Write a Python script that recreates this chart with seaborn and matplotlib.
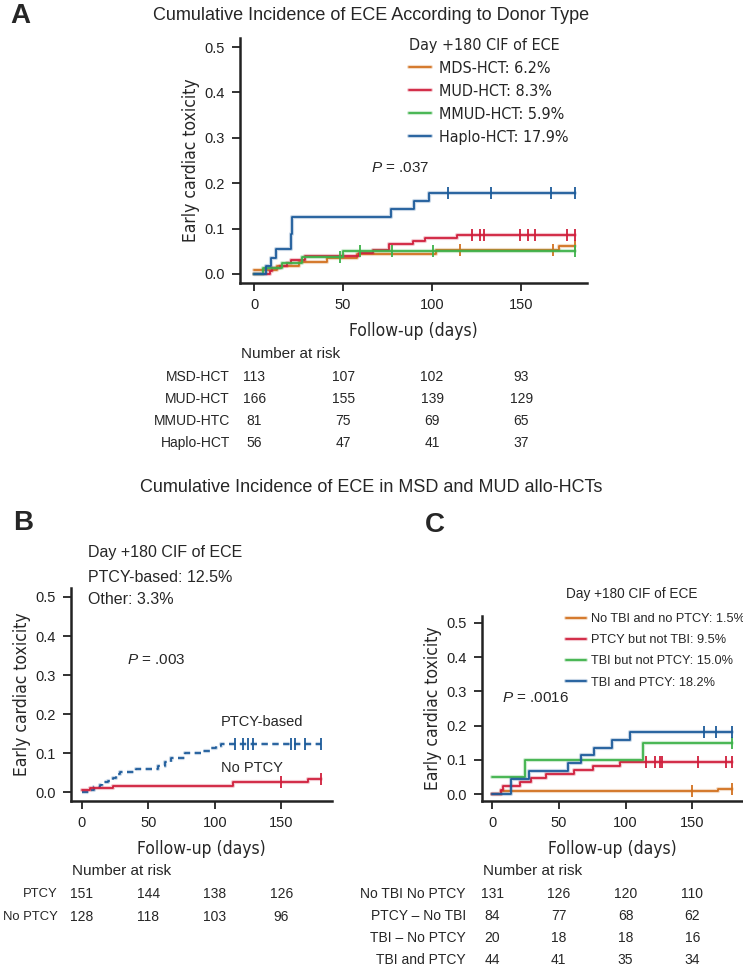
import numpy as np
import pandas as pd
import matplotlib
matplotlib.use("Agg")
import matplotlib.pyplot as plt
import matplotlib.patheffects as pe
from matplotlib import font_manager as fm
from matplotlib.transforms import blended_transform_factory
import seaborn as sns

# Estilo general
sns.set_style("ticks")
plt.rcParams['font.family'] = ['Liberation Sans', 'DejaVu Sans']
plt.rcParams['mathtext.fontset'] = 'custom'
plt.rcParams['mathtext.it'] = 'Liberation Sans:italic'
plt.rcParams['mathtext.rm'] = 'Liberation Sans'

# Buscamos una fuente estrecha (condensada) si está instalada
cond_file = None
for f in fm.fontManager.ttflist:
    base = f.fname.lower()
    if ('narrow' in base or 'condensed' in base) and 'bold' not in base and 'oblique' not in base \
            and 'italic' not in base:
        cond_file = f.fname
        break


def narrow(size):
    if cond_file:
        return fm.FontProperties(fname=cond_file, size=size)
    return fm.FontProperties(family='Liberation Sans', size=size * 0.92)


# Colores
c_orange = '#D2711F'
c_red = '#D01F3C'
c_green = '#3DB249'
c_blue = '#1C5B9A'

# ---------------- Datos panel A (tipo de donante) ----------------
msd_days = [0, 13, 25, 41, 58, 102, 171, 180]
msd_cif = [0.009, 0.018, 0.027, 0.035, 0.044, 0.053, 0.062, 0.062]
msd_cens = [115.5, 168, 180]

mud_days = [0, 9, 10, 14.5, 18.3, 20.5, 28.6, 59, 67, 76, 89.5, 96, 114, 180]
mud_cif = [0, 0.006, 0.012, 0.018, 0.024, 0.030, 0.040, 0.047, 0.053, 0.067, 0.073, 0.079, 0.086, 0.086]
mud_cens = [122.6, 127, 129, 149.4, 154, 158, 176, 180]

mmud_days = [0, 5.2, 15.5, 26.8, 50, 180]
mmud_cif = [0, 0.012, 0.025, 0.037, 0.050, 0.050]
mmud_cens = [48.5, 59.5, 77.5, 100.6, 180]

haplo_days = [0, 6.7, 9.6, 12.4, 20.8, 21.3, 76.8, 89.9, 98.3, 180]
haplo_cif = [0, 0.018, 0.036, 0.054, 0.089, 0.125, 0.143, 0.161, 0.179, 0.179]
haplo_cens = [109, 133, 167, 180]

a_legend = ['MDS-HCT: 6.2%', 'MUD-HCT: 8.3%', 'MMUD-HCT: 5.9%', 'Haplo-HCT: 17.9%']
a_risk_labels = ['MSD-HCT', 'MUD-HCT', 'MMUD-HTC', 'Haplo-HCT']
a_risk = [[113, 107, 102, 93], [166, 155, 139, 129], [81, 75, 69, 65], [56, 47, 41, 37]]

# ---------------- Datos panel B (PTCY) ----------------
ptcy_days = [0, 6.2, 9, 13.7, 15.7, 20, 23.7, 26, 28.7, 41.2, 57.5, 62.5, 67.5, 77.5, 90, 96.3, 101.3, 105, 180]
ptcy_cif = [0, 0.007, 0.013, 0.020, 0.026, 0.030, 0.037, 0.046, 0.052, 0.061, 0.067, 0.079, 0.087, 0.102,
            0.107, 0.113, 0.119, 0.125, 0.125]
ptcy_cens = [115.5, 121.5, 125, 129, 157, 160.5, 168, 180]

noptcy_days = [0, 6.2, 23.7, 113.7, 170, 180]
noptcy_cif = [0.005, 0.010, 0.017, 0.026, 0.034, 0.034]
noptcy_cens = [150, 180]

b_risk_labels = ['PTCY', 'No PTCY']
b_risk = [[151, 144, 138, 126], [128, 118, 103, 96]]

# ---------------- Datos panel C (TBI / PTCY) ----------------
neither_days = [0, 6.5, 169.5, 180]
neither_cif = [0, 0.008, 0.015, 0.015]
neither_cens = [150, 180]

ptcyonly_days = [0, 6.7, 8.2, 20.6, 29, 40.5, 61.7, 75.9, 95.8, 180]
ptcyonly_cif = [0, 0.012, 0.024, 0.036, 0.048, 0.060, 0.071, 0.083, 0.095, 0.095]
ptcyonly_cens = [115.5, 122, 126, 127.7, 154, 175, 180]

tbionly_days = [0, 24.4, 113, 180]
tbionly_cif = [0.05, 0.10, 0.15, 0.15]
tbionly_cens = [180]

both_days = [0, 14.2, 28, 57, 66.5, 76.5, 89.6, 103, 180]
both_cif = [0, 0.045, 0.068, 0.091, 0.114, 0.136, 0.159, 0.182, 0.182]
both_cens = [158.6, 168, 180]

c_legend = ['No TBI and no PTCY: 1.5%', 'PTCY but not TBI: 9.5%', 'TBI but not PTCY: 15.0%', 'TBI and PTCY: 18.2%']
c_risk_labels = ['No TBI No PTCY', 'PTCY – No TBI', 'TBI – No PTCY', 'TBI and PTCY']
c_risk = [[131, 126, 120, 110], [84, 77, 68, 62], [20, 18, 18, 16], [44, 41, 35, 34]]

risk_times = [0, 50, 100, 150]

# ---------------- Figura ----------------
W, H = 743, 968
fig = plt.figure(figsize=(W / 100, H / 100), dpi=100)


def box(l, t, r, b):
    return [l / W, 1 - b / H, (r - l) / W, (b - t) / H]


def fx(px):
    return px / W


def fy(py):
    return 1 - py / H


def curva(ax, days, cif, cens, color, label, dashed=False):
    df = pd.DataFrame({'day': days, 'cif': cif})
    ls = (0, (3.5, 2.5)) if dashed else '-'
    sns.lineplot(data=df, x='day', y='cif', drawstyle='steps-post', estimator=None, sort=False,
                 color=color, linewidth=1.3, linestyle=ls, label=label, ax=ax,
                 path_effects=[pe.Stroke(linewidth=3, foreground=color, alpha=0.25), pe.Normal()])
    idx = np.searchsorted(days, cens, side='right') - 1
    ax.plot(cens, np.array(cif)[idx], ls='none', marker='|', ms=8, mew=1.3, color=color)


def ejes(ax, xlim, ylim):
    ax.set_xlim(*xlim)
    ax.set_ylim(*ylim)
    ax.set_xticks(risk_times)
    ax.set_yticks([0, 0.1, 0.2, 0.3, 0.4, 0.5])
    ax.set_yticklabels(['0.0', '0.1', '0.2', '0.3', '0.4', '0.5'])
    sns.despine(ax=ax)
    for s in ['left', 'bottom']:
        ax.spines[s].set_linewidth(1.8)
        ax.spines[s].set_color('#222222')
    ax.tick_params(axis='both', direction='out', length=6, width=1.3, labelsize=10.5,
                   colors='#222222', pad=5)
    ax.set_xlabel('Follow-up (days)', fontproperties=narrow(12.5), labelpad=7)
    ax.set_ylabel('Early cardiac toxicity', fontproperties=narrow(12.5), labelpad=3)


def tabla(ax, labels, risk, y_title, y_rows, x_label, x_title, fs=10):
    trans = blended_transform_factory(ax.transData, fig.transFigure)
    fig.text(fx(x_title), fy(y_title), 'Number at risk', fontsize=11, va='center', ha='left')
    for lab, row, yr in zip(labels, risk, y_rows):
        fig.text(fx(x_label), fy(yr), lab, fontsize=fs, va='center', ha='right')
        for t, n in zip(risk_times, row):
            ax.text(t, fy(yr), str(n), transform=trans, fontsize=10, va='center', ha='center')


# ---------------- Panel A ----------------
ax_a = fig.add_axes(box(240, 38, 587, 283))
curva(ax_a, msd_days, msd_cif, msd_cens, c_orange, a_legend[0])
curva(ax_a, mud_days, mud_cif, mud_cens, c_red, a_legend[1])
curva(ax_a, mmud_days, mmud_cif, mmud_cens, c_green, a_legend[2])
curva(ax_a, haplo_days, haplo_cif, haplo_cens, c_blue, a_legend[3])
ejes(ax_a, (-7.9, 187), (-0.02, 0.52))
ax_a.legend(loc='upper left', bbox_to_anchor=(fx(409), fy(38)), bbox_transform=fig.transFigure,
            frameon=False, title='Day +180 CIF of ECE', alignment='left', borderpad=0, borderaxespad=0,
            handlelength=1.4, handletextpad=0.5, labelspacing=0.5,
            prop=narrow(11.5), title_fontproperties=narrow(11.5))
fig.text(fx(371), fy(168), r'$P$ = .037', fontsize=11, va='center', ha='left')
fig.text(fx(371), fy(15), 'Cumulative Incidence of ECE According to Donor Type', fontsize=13,
         ha='center', va='center')
fig.text(fx(10), fy(16), 'A', fontsize=20, fontweight='bold', ha='left', va='center')
tabla(ax_a, a_risk_labels, a_risk, 354, [377, 399, 421, 443], 230, 241)

# ---------------- Panel B ----------------
ax_b = fig.add_axes(box(71, 588, 332, 801))
curva(ax_b, ptcy_days, ptcy_cif, ptcy_cens, c_blue, 'PTCY-based', dashed=True)
curva(ax_b, noptcy_days, noptcy_cif, noptcy_cens, c_red, 'No PTCY')
ejes(ax_b, (-7.9, 188), (-0.022, 0.523))
ax_b.get_legend().remove()
fig.text(fx(88), fy(553), 'Day +180 CIF of ECE', fontsize=11.5, va='center', ha='left')
fig.text(fx(88), fy(577), 'PTCY-based: 12.5%', fontsize=11.5, va='center', ha='left')
fig.text(fx(88), fy(600), 'Other: 3.3%', fontsize=11.5, va='center', ha='left')
fig.text(fx(127), fy(660), r'$P$ = .003', fontsize=11, va='center', ha='left')
fig.text(fx(221), fy(722), 'PTCY-based', fontsize=10.5, va='center', ha='left')
fig.text(fx(221), fy(768), 'No PTCY', fontsize=10.5, va='center', ha='left')
fig.text(fx(13), fy(523), 'B', fontsize=20, fontweight='bold', ha='left', va='center')
tabla(ax_b, b_risk_labels, b_risk, 871, [894, 917], 58, 72, fs=9.4)

# ---------------- Panel C ----------------
ax_c = fig.add_axes(box(482, 616, 743, 801))
curva(ax_c, neither_days, neither_cif, neither_cens, c_orange, c_legend[0])
curva(ax_c, ptcyonly_days, ptcyonly_cif, ptcyonly_cens, c_red, c_legend[1])
curva(ax_c, tbionly_days, tbionly_cif, tbionly_cens, c_green, c_legend[2])
curva(ax_c, both_days, both_cif, both_cens, c_blue, c_legend[3])
ejes(ax_c, (-7.5, 188), (-0.02, 0.52))
fig.text(fx(566), fy(594), 'Day +180 CIF of ECE', fontsize=9.8, va='center', ha='left')
ax_c.legend(loc='upper left', bbox_to_anchor=(fx(566), fy(613)), bbox_transform=fig.transFigure,
            frameon=False, borderpad=0, borderaxespad=0,
            handlelength=1.55, handletextpad=0.4, labelspacing=0.72, prop={'size': 9.2})
fig.text(fx(502), fy(698), r'$P$ = .0016', fontsize=11, va='center', ha='left')
fig.text(fx(425), fy(525), 'C', fontsize=20, fontweight='bold', ha='left', va='center')
tabla(ax_c, c_risk_labels, c_risk, 871, [894, 916, 938, 960], 466, 483)

fig.text(fx(371), fy(487), 'Cumulative Incidence of ECE in MSD and MUD allo-HCTs', fontsize=13,
         ha='center', va='center')

fig.savefig('out.png', dpi=100)
